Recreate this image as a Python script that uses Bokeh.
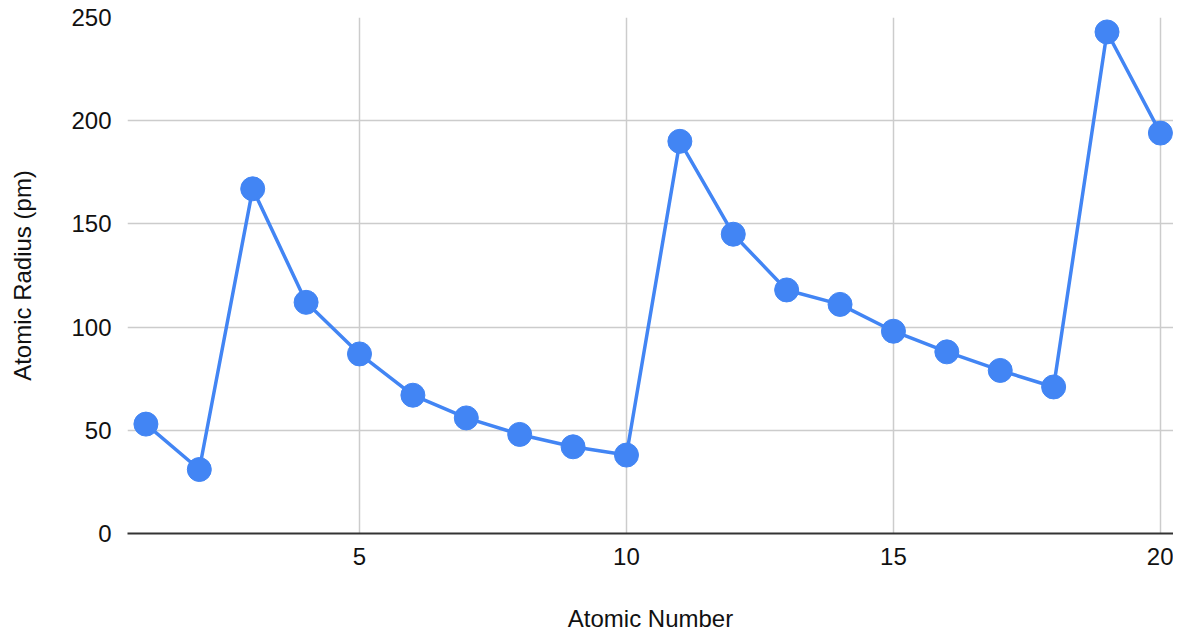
from bokeh.plotting import figure
from bokeh.models import Range1d, FixedTicker
from bokeh.embed import file_html
from bokeh.resources import INLINE

atomic_number = list(range(1, 21))
atomic_radius = [53, 31, 167, 112, 87, 67, 56, 48, 42, 38,
                 190, 145, 118, 111, 98, 88, 79, 71, 243, 194]
x_ticks = [5, 10, 15, 20]
y_ticks = [0, 50, 100, 150, 200, 250]

FONT = "Liberation Sans"
BLUE = "#4285F4"

p = figure(width=1173, height=634, output_backend="svg", toolbar_location=None,
           x_range=Range1d(0.655, 20.245), y_range=Range1d(0, 250),
           min_border_left=127, min_border_right=0, min_border_top=17,
           min_border_bottom=97)
p.outline_line_color = None
p.background_fill_color = "white"
p.border_fill_color = "white"

p.line(atomic_number, atomic_radius, line_color=BLUE, line_width=3.5)
p.scatter(atomic_number, atomic_radius, size=24, fill_color=BLUE, line_color=BLUE)

p.xaxis.ticker = FixedTicker(ticks=x_ticks)
p.yaxis.ticker = FixedTicker(ticks=y_ticks)
p.xgrid.ticker = FixedTicker(ticks=x_ticks)
p.ygrid.ticker = FixedTicker(ticks=y_ticks)
for g in (p.xgrid, p.ygrid):
    g.grid_line_color = "#cccccc"
    g.grid_line_width = 1.5

for ax in (p.xaxis, p.yaxis):
    ax.major_tick_line_color = None
    ax.minor_tick_line_color = None
    ax.major_tick_out = 0
    ax.major_tick_in = 0
    ax.major_label_text_font = FONT
    ax.major_label_text_font_size = "24px"
    ax.major_label_text_color = "#111111"
    ax.axis_label_text_font = FONT
    ax.axis_label_text_font_size = "24px"
    ax.axis_label_text_font_style = "normal"
    ax.axis_label_text_color = "#111111"

p.xaxis.axis_label = "Atomic Number"
p.yaxis.axis_label = "Atomic Radius (pm)"
p.xaxis.axis_line_color = "#333333"
p.xaxis.axis_line_width = 2
p.yaxis.axis_line_color = None
p.xaxis.major_label_standoff = 14
p.xaxis.axis_label_standoff = 37
p.yaxis.major_label_standoff = 16
p.yaxis.axis_label_standoff = 32

open("out.html", "w").write(file_html(p, INLINE))
